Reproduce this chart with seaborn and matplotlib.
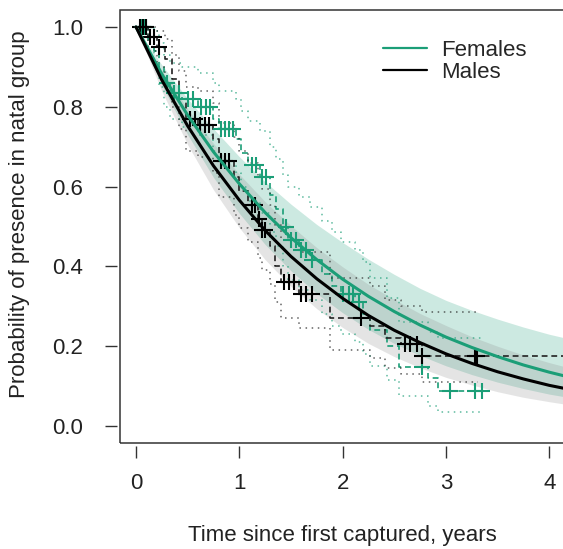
import numpy as np
import pandas as pd
import matplotlib
matplotlib.use("Agg")
import matplotlib.pyplot as plt
import matplotlib.patches as mpatches
import seaborn as sns

# fitted survival curves
fit_t = [0, 0.25, 0.5, 0.75, 1.0, 1.25, 1.5, 1.75, 2.0, 2.25, 2.5, 2.75, 3.0,
         3.25, 3.5, 3.75, 4.0, 4.25]
fem_fit = [1.0, 0.882, 0.779, 0.687, 0.607, 0.535, 0.472, 0.417, 0.368, 0.325,
           0.287, 0.253, 0.223, 0.197, 0.174, 0.153, 0.135, 0.119]
fem_lo = [1.0, 0.854, 0.730, 0.623, 0.533, 0.455, 0.389, 0.332, 0.284, 0.242,
          0.207, 0.177, 0.151, 0.129, 0.110, 0.094, 0.080, 0.069]
fem_hi = [1.0, 0.905, 0.820, 0.745, 0.675, 0.612, 0.556, 0.505, 0.460, 0.418,
          0.380, 0.345, 0.315, 0.290, 0.268, 0.248, 0.230, 0.215]
mal_fit = [1.0, 0.867, 0.752, 0.652, 0.566, 0.490, 0.425, 0.369, 0.320, 0.277,
           0.240, 0.209, 0.181, 0.157, 0.136, 0.118, 0.102, 0.089]
mal_lo = [1.0, 0.839, 0.705, 0.592, 0.497, 0.417, 0.350, 0.294, 0.247, 0.207,
          0.174, 0.146, 0.122, 0.103, 0.086, 0.072, 0.061, 0.051]
mal_hi = [1.0, 0.891, 0.795, 0.708, 0.631, 0.562, 0.502, 0.447, 0.399, 0.355,
          0.317, 0.282, 0.252, 0.224, 0.200, 0.178, 0.159, 0.142]

# Kaplan-Meier steps, females
fem_km_t = [0, 0.12, 0.17, 0.22, 0.27, 0.33, 0.45, 0.6, 0.75, 0.8, 0.97, 1.02,
            1.08, 1.2, 1.3, 1.36, 1.42, 1.47, 1.58, 1.68, 1.8, 1.9, 1.98, 2.12,
            2.2, 2.27, 2.43, 2.55, 2.83, 2.92]
fem_km = [1.0, 0.97, 0.94, 0.90, 0.86, 0.835, 0.82, 0.80, 0.77, 0.745, 0.72,
          0.685, 0.655, 0.625, 0.58, 0.545, 0.50, 0.465, 0.44, 0.415, 0.38,
          0.35, 0.33, 0.31, 0.28, 0.24, 0.20, 0.148, 0.12, 0.0875]
fem_km_hi = [1.0, 1.0, 0.99, 0.96, 0.93, 0.91, 0.90, 0.885, 0.86, 0.84, 0.82,
             0.79, 0.765, 0.74, 0.70, 0.67, 0.63, 0.60, 0.575, 0.55, 0.515,
             0.485, 0.46, 0.44, 0.41, 0.37, 0.32, 0.26, 0.235, 0.22]
fem_km_lo = [1.0, 0.94, 0.90, 0.85, 0.80, 0.77, 0.75, 0.73, 0.69, 0.665, 0.635,
             0.60, 0.565, 0.535, 0.485, 0.45, 0.40, 0.365, 0.34, 0.315, 0.28,
             0.25, 0.23, 0.21, 0.18, 0.15, 0.115, 0.075, 0.05, 0.035]
fem_km_end = 3.35
fem_cens = [0.05, 0.08, 0.1, 0.3, 0.37, 0.42, 0.5, 0.55, 0.63, 0.68, 0.72, 0.82,
            0.86, 0.9, 0.94, 1.12, 1.16, 1.22, 1.26, 1.45, 1.5, 1.55, 1.6, 1.65,
            1.7, 2.0, 2.06, 2.1, 2.16, 2.77, 3.04, 3.28, 3.35]

# Kaplan-Meier steps, males
mal_km_t = [0, 0.12, 0.2, 0.28, 0.35, 0.42, 0.48, 0.6, 0.75, 0.8, 0.95, 1.0,
            1.08, 1.18, 1.22, 1.3, 1.35, 1.4, 1.58, 1.88, 2.27, 2.41, 2.57, 2.77]
mal_km = [1.0, 0.975, 0.95, 0.92, 0.87, 0.82, 0.77, 0.755, 0.72, 0.665, 0.625,
          0.59, 0.555, 0.52, 0.49, 0.45, 0.40, 0.36, 0.33, 0.27, 0.25, 0.22,
          0.205, 0.175]
mal_km_hi = [1.0, 1.0, 0.99, 0.97, 0.93, 0.89, 0.85, 0.84, 0.81, 0.76, 0.725,
             0.69, 0.66, 0.625, 0.595, 0.555, 0.505, 0.465, 0.435, 0.37, 0.35,
             0.315, 0.30, 0.285]
mal_km_lo = [1.0, 0.94, 0.90, 0.86, 0.80, 0.745, 0.69, 0.675, 0.635, 0.575,
             0.53, 0.495, 0.46, 0.42, 0.39, 0.355, 0.31, 0.27, 0.245, 0.19,
             0.17, 0.145, 0.13, 0.11]
mal_km_end = 4.3
mal_ci_end = 3.31
mal_cens = [0.04, 0.07, 0.1, 0.14, 0.17, 0.22, 0.52, 0.57, 0.62, 0.67, 0.71,
            0.82, 0.86, 0.9, 1.12, 1.15, 1.19, 1.22, 1.25, 1.43, 1.48, 1.53,
            1.6, 1.65, 1.7, 2.18, 2.6, 2.65, 2.72, 2.77, 3.28, 3.3]

TEAL = "#1b9e77"
BLACK = "#000000"

sns.set_style("white")
plt.rcParams["font.family"] = ["Liberation Sans", "DejaVu Sans"]
FS = 16


def km_at(times, step_t, step_s):
    idx = np.searchsorted(step_t, times, side="right") - 1
    return np.asarray(step_s)[idx]


def km_step(ax, t, s, end, **kw):
    tt = list(t) + [end]
    ss = list(s) + [s[-1]]
    ax.step(tt, ss, where="post", **kw)


fig = plt.figure(figsize=(5.63, 5.49), dpi=100)
ax = fig.add_axes([120 / 563, (549 - 443) / 549, (566 - 120) / 563, (443 - 10) / 549])

fits = pd.DataFrame({"t": fit_t, "fem": fem_fit, "mal": mal_fit})

# confidence bands of the fits
ax.fill_between(fit_t, fem_lo, fem_hi, color=TEAL, alpha=0.22, lw=0, zorder=1)
ax.fill_between(fit_t, mal_lo, mal_hi, color="#888888", alpha=0.22, lw=0, zorder=1)

# KM curves
dash = (0, (3.5, 2.3))
dot = (0, (1, 3))
km_step(ax, fem_km_t, fem_km, fem_km_end, color=TEAL, lw=1.2, ls=dash, zorder=2)
km_step(ax, fem_km_t, fem_km_hi, fem_km_end, color=TEAL, lw=1.1, ls=dot, alpha=0.7, zorder=2)
km_step(ax, fem_km_t, fem_km_lo, fem_km_end, color=TEAL, lw=1.1, ls=dot, alpha=0.7, zorder=2)
km_step(ax, mal_km_t, mal_km, mal_km_end, color="#222222", lw=1.2, ls=dash, zorder=2)
km_step(ax, mal_km_t, mal_km_hi, mal_ci_end, color="#222222", lw=1.1, ls=dot, alpha=0.7, zorder=2)
km_step(ax, mal_km_t, mal_km_lo, mal_ci_end, color="#222222", lw=1.1, ls=dot, alpha=0.7, zorder=2)

# censoring marks
sns.scatterplot(x=fem_cens, y=km_at(fem_cens, fem_km_t, fem_km), ax=ax,
                marker="+", s=130, linewidth=1.5, color=TEAL, zorder=3)
sns.scatterplot(x=mal_cens, y=km_at(mal_cens, mal_km_t, mal_km), ax=ax,
                marker="+", s=130, linewidth=1.5, color=BLACK, zorder=3)

# fitted curves
sns.lineplot(data=fits, x="t", y="fem", ax=ax, color=TEAL, lw=2.2, zorder=4)
sns.lineplot(data=fits, x="t", y="mal", ax=ax, color=BLACK, lw=2.2, zorder=4)

ax.set_xlim(-0.155, (566 - 136) / 103.3)
ax.set_ylim(-0.0425, 1.0425)
ax.set_xticks([0, 1, 2, 3, 4])
ax.set_yticks([0.0, 0.2, 0.4, 0.6, 0.8, 1.0])
ax.set_yticklabels(["0.0", "0.2", "0.4", "0.6", "0.8", "1.0"])
ax.set_xlabel("")
ax.set_ylabel("")

for side in ["left", "bottom", "top", "right"]:
    ax.spines[side].set_visible(False)
ax.spines["left"].set_position(("outward", 2))
ax.spines["bottom"].set_position(("outward", 2))
ax.add_patch(mpatches.Rectangle((0, 0), 1, 1, transform=ax.transAxes, fill=False,
                                lw=1.1, ec="#333333", clip_on=False, zorder=5))
ax.tick_params(axis="both", direction="out", length=8.6, width=1.0, color="#333333",
               labelsize=FS, labelcolor="#222222", left=True, bottom=True)
ax.tick_params(axis="x", pad=11)
ax.tick_params(axis="y", pad=16)

fig.text(20 / 563, 1 - 214 / 549, "Probability of presence in natal group",
         rotation=90, ha="center", va="center", fontsize=FS, color="#222222")
fig.text(342 / 563, 1 - 535 / 549, "Time since first captured, years",
         ha="center", va="center", fontsize=FS, color="#222222")

# legend
handles = [plt.Line2D([], [], color=TEAL, lw=1.6), plt.Line2D([], [], color=BLACK, lw=1.6)]
fig.legend(handles, ["Females", "Males"], loc="upper left",
           bbox_to_anchor=(383 / 563, 1 - 40 / 549), frameon=False, fontsize=FS,
           handlelength=2.0, handletextpad=0.6, labelspacing=0.05, borderpad=0,
           borderaxespad=0)

fig.savefig("out.png", dpi=100)
